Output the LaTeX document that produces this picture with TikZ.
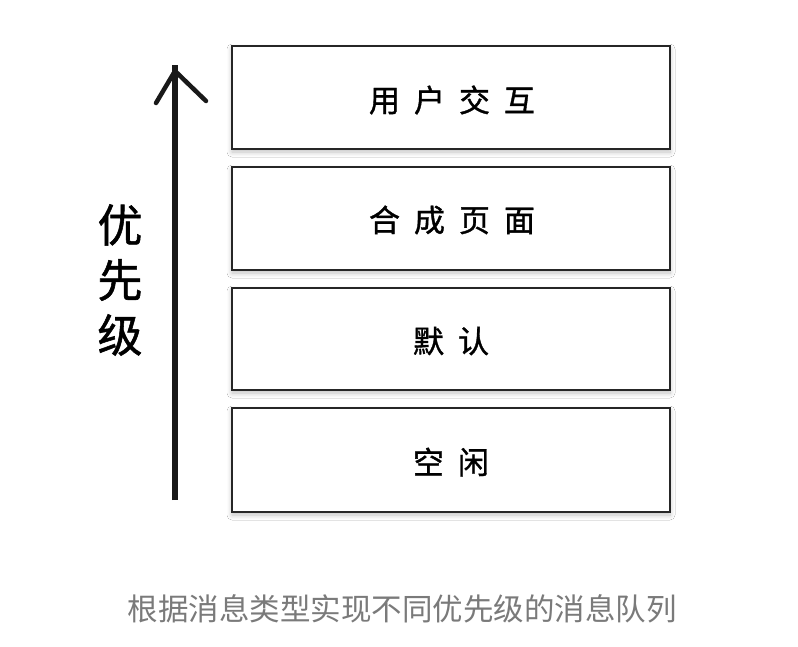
\documentclass[tikz,border=0pt]{standalone}
\usepackage{fontspec}
\newfontfamily\cjk{Noto Sans CJK SC}
\newfontfamily\cjkhand[FakeBold=1.2]{Noto Sans CJK SC}
\usetikzlibrary{shadows.blur}
\definecolor{capgray}{HTML}{7A7A7A}
\tikzset{
  levelbox/.style={draw=black!85, line width=1.8pt, fill=white,
    blur shadow={shadow xshift=0pt, shadow yshift=-3pt, shadow blur steps=8, shadow blur radius=5pt, shadow opacity=25}},
  boxtext/.style={font=\cjkhand\fontsize{31}{31}\selectfont, text=black},
  shaft/.style={line width=6pt, draw=black!90},
  armline/.style={line width=4.5pt, draw=black!90, line cap=round},
}
\newcommand{\chgap}{\hspace{14pt}}
\begin{document}
\begin{tikzpicture}[x=1pt,y=-1pt]
\useasboundingbox[fill=white] (0,0) rectangle (798,646);
% boxes
\draw[levelbox] (232,46) rectangle (670,149);
\draw[levelbox] (232,167) rectangle (670,270);
\draw[levelbox] (232,288) rectangle (670,390);
\draw[levelbox] (232,408) rectangle (670,512);
\node[boxtext] (b1) at (452,100) {用\chgap 户\chgap 交\chgap 互};
\node[boxtext] (b2) at (452,220) {合\chgap 成\chgap 页\chgap 面};
\node[boxtext] (b3) at (451,341) {默\chgap 认};
\node[boxtext] (b4) at (451,462) {空\chgap 闲};
% arrow
\coordinate (base) at (175,500);
\coordinate (tip) at (175,71);
\coordinate (la) at (156,103);
\coordinate (ra) at (206,101);
\draw[shaft] (base) -- ([yshift=6pt]tip);
\draw[armline] (la) -- (tip) -- (ra);
% vertical label
\node[font=\cjkhand\fontsize{45}{55}\selectfont, align=center] (lab) at (120,280) {优\\先\\级};
% caption
\node[font=\cjk\fontsize{30.5}{30.5}\selectfont, text=capgray] (cap) at (402,609) {根据消息类型实现不同优先级的消息队列};
\end{tikzpicture}
\end{document}
